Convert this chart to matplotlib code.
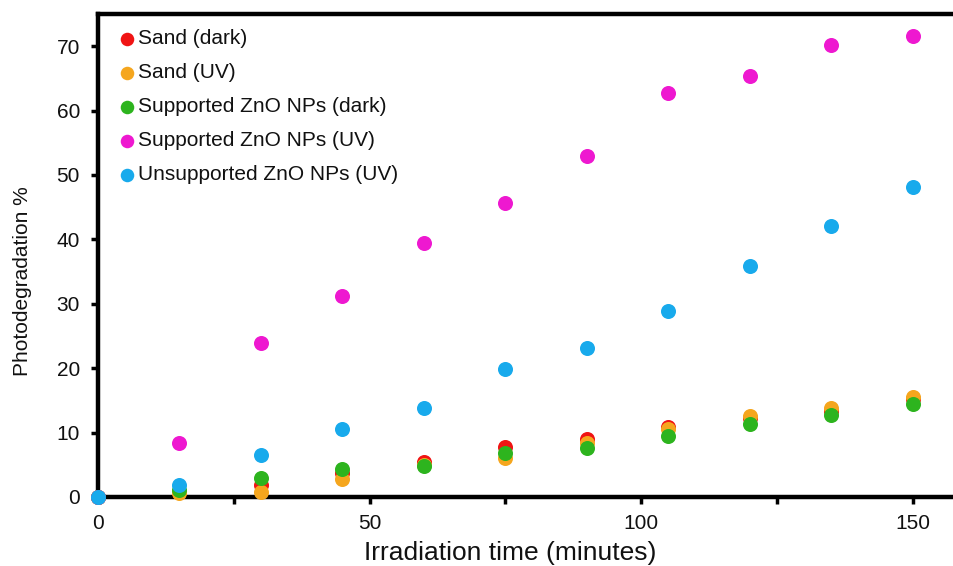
import matplotlib
matplotlib.use("Agg")
import matplotlib.pyplot as plt
from matplotlib.ticker import MultipleLocator

plt.rcParams['font.family'] = ['Liberation Sans', 'DejaVu Sans']

time_min = [0, 15, 30, 45, 60, 75, 90, 105, 120, 135, 150]
sand_dark = [0, 0.7, 1.9, 3.7, 5.5, 7.8, 9.0, 10.9, 12.3, 13.4, 15.2]
sand_uv = [0, 0.6, 0.8, 2.75, 5.0, 6.0, 8.4, 10.5, 12.6, 13.8, 15.6]
supp_dark = [0, 1.1, 3.0, 4.35, 4.8, 6.9, 7.6, 9.5, 11.4, 12.7, 14.5]
supp_uv = [0, 8.4, 23.9, 31.2, 39.4, 45.7, 53.0, 62.7, 65.4, 70.2, 71.6]
unsupp_uv = [0, 1.8, 6.5, 10.5, 13.8, 19.9, 23.1, 28.9, 35.9, 42.1, 48.1]

labels = ["Sand (dark)", "Sand (UV)", "Supported ZnO NPs (dark)",
          "Supported ZnO NPs (UV)", "Unsupported ZnO NPs (UV)"]
series = [sand_dark, sand_uv, supp_dark, supp_uv, unsupp_uv]
colors = ["#f01414", "#f5a61e", "#2db41e", "#ee18d0", "#18aaec"]

W, H = 954, 566
AXW = 160 * 5.43
AXH = 497 - 14
fig = plt.figure(figsize=(W / 100, H / 100), dpi=100)
ax = fig.add_axes([98 / W, (H - 497) / H, AXW / W, AXH / H])

for ys, c, lab in zip(series, colors, labels):
    ax.scatter(time_min, ys, s=117, color=c, linewidths=0, label=lab,
               clip_on=False, zorder=3)

ax.set_xlim(0, 160)
ax.set_ylim(0, 75)
ax.xaxis.set_major_locator(MultipleLocator(50))
ax.xaxis.set_minor_locator(MultipleLocator(25))
ax.set_yticks([0, 10, 20, 30, 40, 50, 60, 70])

for side in ['left', 'bottom', 'top']:
    ax.spines[side].set_linewidth(3.2)
    ax.spines[side].set_color('black')
ax.spines['right'].set_visible(False)

ax.tick_params(axis='both', which='both', direction='out', width=2.5,
               length=5, color='black', labelsize=15, labelcolor='#111111')
ax.tick_params(axis='x', which='both', pad=7)
ax.tick_params(axis='y', pad=8)

ax.set_xlabel("Irradiation time (minutes)", fontsize=19, color='#111111')
ax.set_ylabel("Photodegradation %", fontsize=15, color='#111111')
ax.xaxis.set_label_coords((510 - 98) / AXW, -(565 - 497) / AXH, transform=ax.transAxes)
ax.xaxis.label.set_va('bottom')
ax.yaxis.set_label_coords(-(98 - 23) / AXW, (497 - 281) / AXH, transform=ax.transAxes)
ax.yaxis.label.set_va('center')
ax.yaxis.label.set_ha('center')
ax.yaxis.label.set_rotation_mode('anchor')

leg = ax.legend(loc='upper left', bbox_to_anchor=(120 / W, 1 - 29 / H),
                bbox_transform=fig.transFigure, frameon=False,
                fontsize=15, markerscale=0.9, handlelength=0.7,
                handletextpad=0.15, labelspacing=0.72, borderpad=0,
                borderaxespad=0, scatterpoints=1)
for t in leg.get_texts():
    t.set_color('#111111')

fig.savefig("out.png", dpi=100)
